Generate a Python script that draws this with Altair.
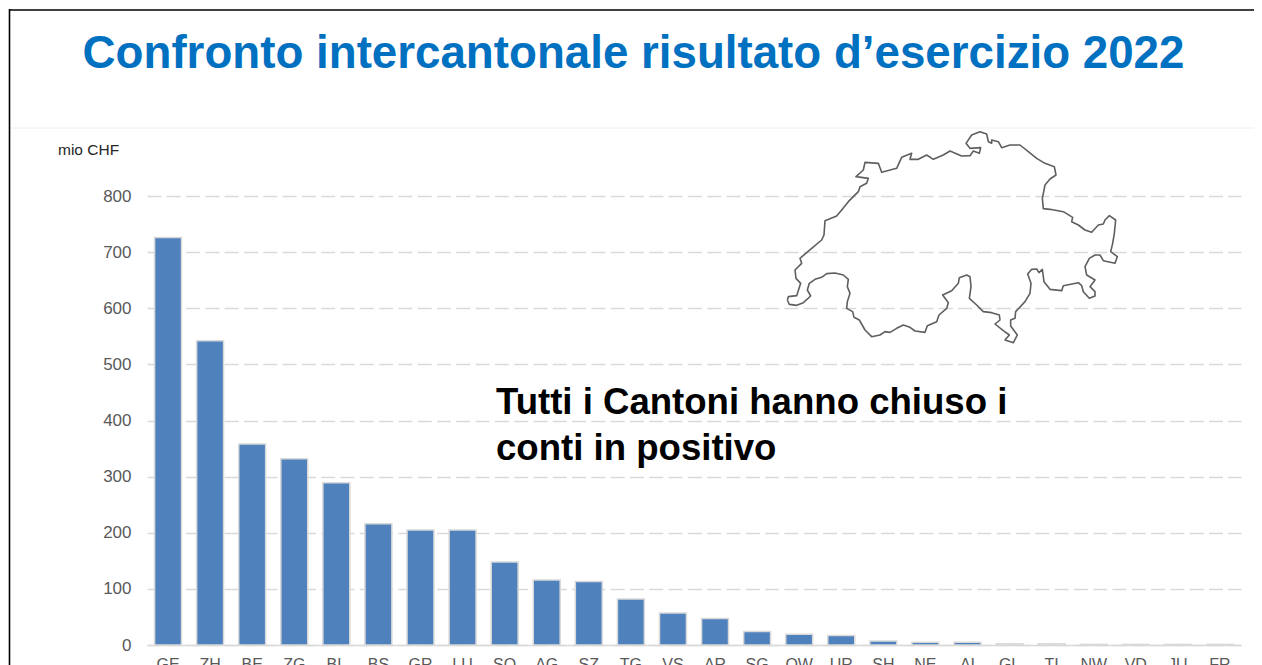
import altair as alt
import pandas as pd

cantons = ["GE","ZH","BE","ZG","BL","BS","GR","LU","SO","AG","SZ","TG","VS","AR","SG","OW","UR","SH","NE","AI","GL","TI","NW","VD","JU","FR"]
results = [726,542,358,332,289,216,205,205,148,116,113,82,57,47,24,19,17,7,5,5,2,2,1,1,1,1]
y_ticks = [0,100,200,300,400,500,600,700,800]
title_text = "Confronto intercantonale risultato d\u2019esercizio 2022"
note_lines = ["Tutti i Cantoni hanno chiuso i", "conti in positivo"]
unit_text = "mio CHF"

# Outline of Switzerland
map_x = [52,58,80,100,122,112,118,135,155,170,195,220,235,232,240,232,230,248,252,268,285,305,330,345,360,380,400,420,435,465,472,500,507,530,535,518,545,565,568,590,600,603,598,620,640,665,688,690,675,700,718,705,730,742,722,722,735,737,765,780,783,773,785,800,807,817,822,840,875,880,925,935,940,958,975,975,960,975,950,945,958,975,990,1000,1035,1042,1022,1028,1033,1037,1018,1005,1000,985,965,945,925,905,908,880,840,820,817,825,840,858,853,825,800,775,750,720,695,685,665,665,655,650,630,605,588,600,632,628,610,600,575,540,520,490,470,445,420,425,395,380,335,325,285,280,258,295,290,270,265,235,215,200,165,162,155,125,90,95,75,78,92,80,55,52]
map_y = [540,553,556,548,528,510,490,478,472,461,459,465,478,500,520,545,565,575,592,600,630,650,645,635,637,625,615,622,633,637,617,605,585,565,548,525,512,490,473,465,470,500,535,555,575,578,585,600,612,632,645,660,668,645,618,600,595,575,545,520,490,462,448,447,458,448,485,508,512,497,488,497,515,535,528,515,500,480,465,440,415,405,405,422,430,410,395,370,340,300,287,300,312,315,337,330,315,305,292,275,268,266,235,195,177,165,140,130,115,95,75,75,83,65,60,70,65,42,35,45,70,85,83,100,93,107,108,93,105,118,105,118,118,100,112,145,157,130,127,150,170,175,190,200,215,245,270,288,302,345,360,385,415,430,450,475,490,527,530,540]

bars_df = pd.DataFrame({"canton": cantons, "value": results})
map_df = pd.DataFrame({"mx": map_x, "my": map_y, "i": range(len(map_x))})
note_df = pd.DataFrame({"t": note_lines, "row": [0, 1]})
FONT = "Liberation Sans"

x_enc = alt.X("canton:N", sort=cantons, title=None,
              scale=alt.Scale(paddingInner=0.36, paddingOuter=0.18),
              axis=alt.Axis(labelAngle=0, labelFont=FONT, labelFontSize=16, labelColor="#595959",
                            labelPadding=11, ticks=False, domainColor="#d9d9d9", domainWidth=1.5, grid=False))
y_enc = alt.Y("value:Q", title=None, scale=alt.Scale(domain=[0, 800]),
              axis=alt.Axis(values=y_ticks, labelFont=FONT, labelFontSize=17, labelColor="#595959",
                            labelPadding=16, ticks=False, domain=False, grid=True,
                            gridColor="#d9d9d9", gridWidth=1.5, gridDash=[14, 5.3]))

bars = alt.Chart(bars_df).mark_bar(color="#4f81bd", stroke="#d9d9d9", strokeWidth=1.5).encode(x=x_enc, y=y_enc)

outline = alt.Chart(map_df).mark_line(color="#5f5f5f", strokeWidth=1.6, strokeJoin="round", interpolate="linear").encode(
    x=alt.X("mx:Q", axis=None, scale=alt.Scale(domain=[-1869, 1413], nice=False, zero=False)),
    y=alt.Y("my:Q", axis=None, scale=alt.Scale(domain=[1575, 228], nice=False, zero=False)),
    order="i:Q",
)

title = alt.Chart(pd.DataFrame({"t": [title_text]})).mark_text(
    font=FONT, fontSize=45.7, fontWeight="bold", color="#0070c0", align="center", baseline="alphabetic"
).encode(text="t:N", x=alt.value(633.5 - 147), y=alt.value(68 - 196))

note0 = alt.Chart(note_df[note_df.row == 0]).mark_text(
    font=FONT, fontSize=36.6, fontWeight="bold", color="#000000", align="left", baseline="alphabetic"
).encode(text="t:N", x=alt.value(496 - 147), y=alt.value(414 - 196))
note1 = alt.Chart(note_df[note_df.row == 1]).mark_text(
    font=FONT, fontSize=36.6, fontWeight="bold", color="#000000", align="left", baseline="alphabetic"
).encode(text="t:N", x=alt.value(496 - 147), y=alt.value(460 - 196))

unit = alt.Chart(pd.DataFrame({"t": [unit_text]})).mark_text(
    font=FONT, fontSize=15.5, color="#262626", align="left", baseline="alphabetic"
).encode(text="t:N", x=alt.value(58 - 147), y=alt.value(155 - 196))

top_line = alt.Chart(pd.DataFrame({"a": [0]})).mark_rule(color="#000000", strokeWidth=1.6).encode(
    x=alt.value(9 - 147), x2=alt.value(1115), y=alt.value(10 - 196))
left_line = alt.Chart(pd.DataFrame({"a": [0]})).mark_rule(color="#000000", strokeWidth=1.6).encode(
    x=alt.value(9.5 - 147), y=alt.value(9 - 196), y2=alt.value(470))
sep_line = alt.Chart(pd.DataFrame({"a": [0]})).mark_rule(color="#eeeeee", strokeWidth=1).encode(
    x=alt.value(10 - 147), x2=alt.value(1115), y=alt.value(128 - 196))

chart = alt.layer(bars, outline, sep_line, top_line, left_line, title, note0, note1, unit).resolve_scale(
    x="independent", y="independent"
).properties(
    width=1094, height=449, background="white",
    padding={"left": 139, "top": 188, "right": 13, "bottom": 20},
    autosize=alt.AutoSizeParams(type="none", contains="content"),
).configure_view(stroke=None)

chart.save("out.html", embed_options={"renderer": "svg", "actions": False})
